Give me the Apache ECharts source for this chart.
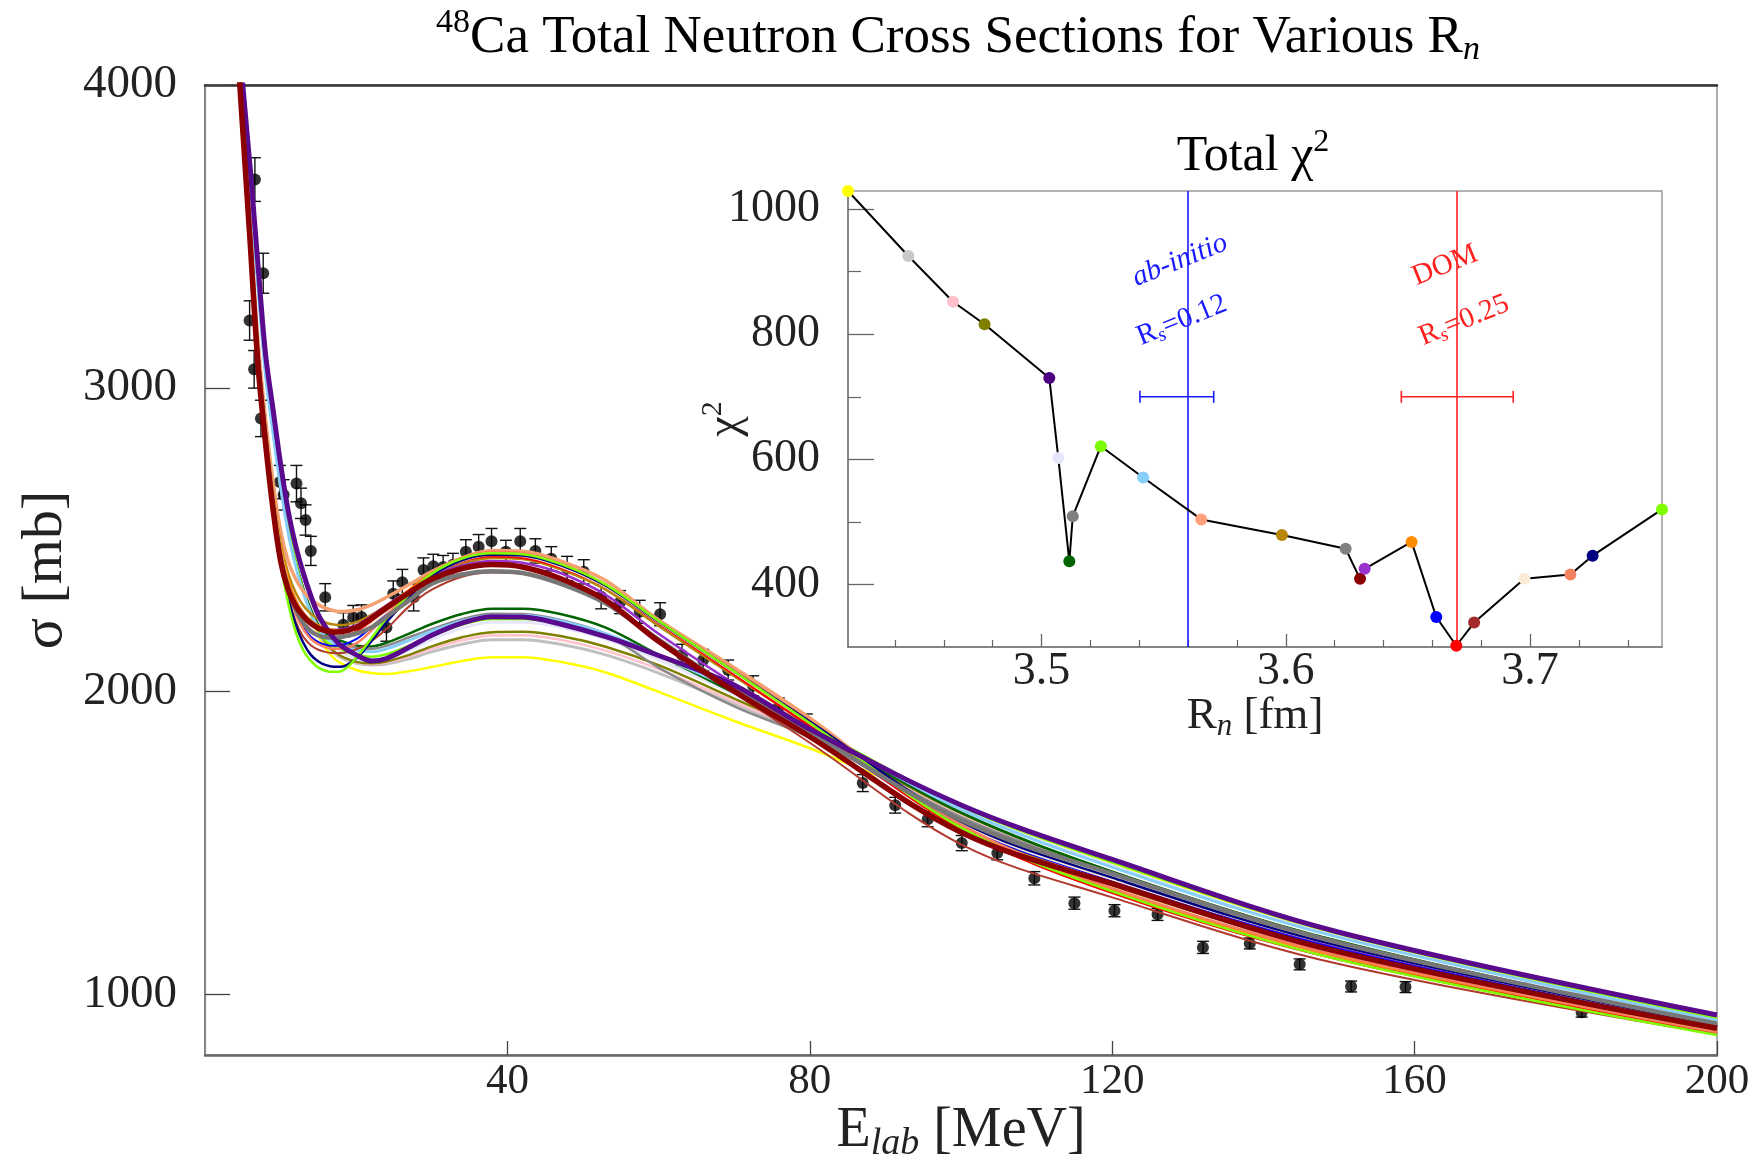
<!DOCTYPE html>
<html>
<head>
<meta charset="utf-8">
<script src="https://cdn.jsdelivr.net/npm/echarts@6/dist/echarts.min.js"></script>
<style>
html,body{margin:0;padding:0;background:#ffffff;}
#c{width:1754px;height:1162px;}
</style>
</head>
<body>
<div id="c"></div>
<script>
// ---------------- DATA ----------------
const energyGrid = [4,5,6,7,8,9,10,11,12,13,14,15,16,17,18,20,22,24,27,30,34,38,42,47,53,60,70,80,100,120,150,200];

const sigmaYellow      = [4320,3980,3690,3380,3090,2895,2710,2555,2435,2335,2250,2185,2140,2110,2092,2070,2060,2057,2066,2080,2100,2112,2112,2097,2062,1998,1902,1812,1610,1432,1195,920];
const sigmaSilver      = [4315,3975,3685,3375,3085,2890,2705,2550,2432,2335,2255,2195,2155,2128,2110,2092,2087,2090,2107,2130,2155,2170,2170,2155,2120,2060,1958,1852,1590,1395,1165,893];
const sigmaPink        = [4312,3972,3682,3372,3082,2888,2703,2550,2433,2337,2258,2198,2158,2131,2114,2095,2090,2095,2115,2140,2168,2184,2185,2170,2134,2073,1966,1858,1594,1400,1170,897];
const sigmaOlive       = [4310,3970,3680,3370,3080,2885,2700,2548,2432,2338,2260,2200,2160,2133,2116,2097,2092,2098,2120,2148,2178,2195,2196,2182,2147,2086,1976,1864,1598,1404,1174,899];
const sigmaIndigo      = [4330,4000,3720,3410,3114,2930,2750,2595,2480,2390,2315,2252,2210,2176,2150,2120,2100,2108,2145,2185,2225,2246,2245,2222,2180,2118,2020,1875,1625,1445,1205,932];
const sigmaLavender    = [4318,3985,3700,3392,3100,2912,2730,2578,2462,2372,2298,2240,2196,2155,2130,2108,2100,2107,2135,2170,2208,2228,2228,2212,2172,2104,1990,1870,1612,1425,1190,910];
const sigmaDarkgreen   = [4300,3955,3660,3345,3055,2862,2682,2535,2425,2338,2270,2220,2190,2175,2166,2151,2148,2160,2190,2222,2255,2272,2272,2255,2210,2120,1995,1875,1600,1405,1175,900];
const sigmaGray        = [4300,3955,3660,3345,3055,2860,2680,2530,2420,2330,2260,2210,2180,2165,2156,2143,2140,2150,2178,2205,2238,2256,2255,2235,2188,2078,1950,1848,1585,1398,1168,902];
const sigmaLawngreen   = [4305,3962,3670,3358,3068,2875,2692,2540,2425,2330,2255,2200,2165,2148,2138,2120,2114,2122,2150,2182,2220,2238,2238,2222,2182,2115,2008,1885,1620,1436,1200,922];
const sigmaSkyblue     = [4295,3950,3650,3335,3045,2852,2672,2522,2412,2325,2258,2210,2178,2160,2150,2135,2130,2140,2168,2198,2232,2250,2250,2232,2190,2118,2005,1880,1610,1420,1188,914];
const sigmaLightsalmon = [4250,3880,3520,3160,2900,2690,2530,2430,2370,2330,2303,2285,2273,2266,2263,2268,2285,2310,2352,2395,2440,2464,2462,2430,2365,2235,2078,1912,1545,1345,1125,874];
const sigmaGoldenrod   = [4240,3870,3500,3130,2870,2655,2490,2390,2325,2283,2256,2238,2226,2220,2218,2228,2252,2283,2330,2375,2420,2440,2436,2402,2335,2215,2050,1888,1565,1360,1140,880];
const sigmaDimgray     = [4235,3860,3480,3095,2835,2615,2445,2340,2270,2225,2198,2184,2178,2177,2179,2190,2210,2245,2300,2355,2385,2396,2390,2355,2290,2170,2005,1865,1575,1398,1170,903];
const sigmaMaroon      = [4230,3850,3470,3080,2820,2600,2430,2335,2282,2248,2224,2208,2199,2195,2196,2210,2240,2275,2325,2370,2405,2418,2410,2372,2300,2165,2000,1850,1535,1365,1140,888];
const sigmaOrchid      = [4240,3865,3490,3105,2845,2630,2465,2365,2300,2258,2232,2216,2207,2203,2204,2218,2248,2283,2333,2380,2415,2430,2424,2390,2318,2190,2025,1870,1560,1380,1155,895];
const sigmaDarkorange  = [4250,3875,3505,3135,2870,2655,2480,2370,2300,2258,2232,2217,2207,2202,2201,2210,2238,2276,2335,2390,2438,2455,2450,2415,2345,2225,2060,1895,1555,1345,1125,872];
const sigmaBlue        = [4245,3870,3495,3120,2855,2630,2450,2335,2260,2210,2180,2162,2153,2150,2152,2172,2212,2258,2325,2385,2432,2450,2447,2415,2345,2225,2060,1895,1560,1375,1150,893];
const sigmaRed         = [4245,3868,3492,3115,2850,2628,2452,2340,2270,2225,2198,2184,2178,2177,2180,2195,2228,2268,2330,2385,2428,2445,2440,2408,2345,2225,2055,1885,1545,1335,1115,870];
const sigmaBrown       = [4240,3860,3482,3100,2835,2610,2430,2310,2230,2180,2152,2137,2129,2126,2126,2138,2165,2205,2280,2335,2378,2392,2388,2355,2290,2170,1995,1830,1495,1320,1100,868];
const sigmaAntique     = [4248,3872,3500,3128,2862,2642,2465,2352,2280,2233,2204,2188,2180,2177,2178,2190,2222,2262,2325,2382,2430,2450,2446,2412,2345,2228,2062,1895,1565,1380,1160,897];
const sigmaCoral       = [4250,3874,3500,3125,2858,2635,2455,2335,2255,2205,2173,2155,2145,2140,2140,2158,2200,2250,2325,2390,2440,2460,2456,2422,2352,2232,2068,1902,1560,1350,1128,875];
const sigmaNavy        = [4255,3880,3505,3130,2860,2630,2440,2310,2220,2160,2120,2098,2086,2081,2081,2108,2165,2228,2310,2380,2432,2450,2448,2416,2348,2230,2065,1900,1570,1385,1160,898];
const sigmaChartreuse  = [4255,3880,3505,3128,2855,2620,2425,2290,2195,2135,2100,2078,2067,2064,2066,2110,2175,2240,2320,2388,2438,2455,2452,2420,2352,2232,2065,1895,1550,1340,1115,866];

// experimental total cross sections
const expEnergy = [5.9,6.5,6.6,7.4,7.7,9.9,10.4,12.1,12.7,13.3,14.0,15.9,18.3,19.6,20.7,24.0,24.9,26.1,27.6,28.9,30.2,31.5,32.8,34.5,36.2,37.9,39.8,41.7,43.7,45.8,47.9,50.1,52.4,54.9,57.5,60.2,63.1,65.9,69.2,72.5,75.9,79.6,87.0,91.3,95.6,100.1,104.8,109.7,115.0,120.3,126.0,132.0,138.2,144.8,151.6,158.8,166.3,174.2,182.1];
const expSigma  = [3223,3062,3688,2900,3379,2690,2648,2685,2620,2565,2463,2310,2219,2243,2245,2210,2322,2360,2310,2400,2412,2410,2417,2460,2477,2495,2460,2495,2463,2437,2405,2394,2312,2294,2262,2254,2120,2103,2070,2018,1948,1895,1697,1624,1578,1499,1466,1383,1301,1276,1264,1155,1168,1099,1026,1024,1050,1020,941];
const expError  = [65,62,72,60,66,55,50,60,50,50,48,45,40,40,40,45,42,42,45,40,40,38,38,40,40,42,38,42,40,40,40,40,40,38,38,38,35,35,33,33,30,30,28,26,25,25,22,22,20,20,20,20,18,18,18,18,18,16,16];

// inset: total chi^2 vs Rn
const rnValues   = [3.4208,3.4455,3.4638,3.4767,3.5032,3.5069,3.5114,3.5128,3.5243,3.5416,3.5654,3.5984,3.6245,3.6304,3.6323,3.6515,3.6616,3.6698,3.6771,3.6977,3.7165,3.7256,3.7540];
const chi2Values = [1029,925,852,816,730,602,437,509,621,571,504,479,457,409,425,468,348,302,339,409,416,446,520];

// reference radii with uncertainties
const refNames  = ['ab-initio','DOM'];
const refRn     = [3.5554,3.6702];
const refErr    = [0.0151,0.0229];
const refChi2   = [700,700];

// rotated annotations (text, Rn, chi2)
const annoText = ['{it|ab-initio}','{r|R}{s|s}{r|=0.12}','{r|DOM}','{r|R}{s|s}{r|=0.25}'];
const annoRn   = [3.5567,3.5575,3.6652,3.6730];
const annoChi2 = [918,822,910,822];

// ticks
const mainXTicks  = [40,80,120,160,200];
const mainYTicks  = [1000,2000,3000,4000];
const insetXTicks = [3.5,3.6,3.7];
const insetXMinor = [3.44,3.46,3.48,3.52,3.54,3.56,3.58,3.62,3.64,3.66,3.68,3.72,3.74];
const insetYTicks = [400,600,800,1000];
const insetYMinor = [500,700,900];

// ---------------- STYLES ----------------
const curveSeriesData = [sigmaYellow,sigmaSilver,sigmaPink,sigmaOlive,sigmaLavender,sigmaDarkgreen,sigmaGray,sigmaLawngreen,sigmaSkyblue,
  sigmaLightsalmon,sigmaGoldenrod,sigmaOrchid,sigmaDarkorange,sigmaBlue,sigmaRed,sigmaBrown,sigmaAntique,sigmaCoral,sigmaNavy,sigmaChartreuse,
  sigmaDimgray,sigmaIndigo,sigmaMaroon];
const curveColors = ['#ffff00','#c0c0c0','#ffc0cb','#808000','#e6e6fa','#006400','#8a8a8a','#7cfc00','#87cefa',
  '#f4a070','#b8860b','#9932cc','#ff8c00','#0000ff','#ff0000','#b03a2e','#faebd7','#fa8060','#000080','#7fff00',
  '#777777','#5a0a8c','#8b0000'];
const curveWidths = [2.5,3,2.5,2.5,3,2.5,2.5,2.5,3,
  3.5,2.5,2.5,2.5,2,2.5,2,2.5,2.5,2.5,2.5,
  4.5,5,5.5];
const pointColors = ['#ffff00','#c8c8c8','#ffc0cb','#808000','#4b0082','#e6e6fa','#006400','#808080','#7cfc00','#87cefa','#ffa07a','#b8860b','#808080','#8b0000','#9932cc','#ff8c00','#0000ff','#ff0000','#a52a2a','#faebd7','#f4845f','#000080','#7fff00'];
const refColors  = ['#1a1aff','#ff2020'];

const FONT = '"Liberation Serif","DejaVu Serif",serif';
const TXT = '#222222';
const plainNum = v => String(v);

function richSet(size, small, color){
  const lh = Math.round(size*1.3);
  return {
    r:   {fontFamily:FONT, fontSize:size, color:color, lineHeight:lh},
    it:  {fontFamily:FONT, fontSize:size, color:color, lineHeight:lh, fontStyle:'italic'},
    sub: {fontFamily:FONT, fontSize:small, color:color, fontStyle:'italic', lineHeight:small, padding:[Math.round(size*0.45),0,0,0]},
    s:   {fontFamily:FONT, fontSize:small, color:color, fontStyle:'italic', lineHeight:small, padding:[Math.round(size*0.45),0,0,0]},
    sup: {fontFamily:FONT, fontSize:small, color:color, lineHeight:small, padding:[0,0,Math.round(size*0.55),0]}
  };
}

// ---------------- SERIES ----------------
const series = [];

// experimental error bars
series.push({
  type:'custom', xAxisIndex:0, yAxisIndex:0, z:1, silent:true,
  data: expEnergy.map((e,i)=>[e, expSigma[i]-expError[i], expSigma[i]+expError[i]]),
  renderItem:(params, api)=>{
    const lo = api.coord([api.value(0), api.value(1)]);
    const hi = api.coord([api.value(0), api.value(2)]);
    const w = 6;
    const st = {stroke:'#111', lineWidth:1.4};
    return {type:'group', children:[
      {type:'line', shape:{x1:lo[0],y1:lo[1],x2:hi[0],y2:hi[1]}, style:st},
      {type:'line', shape:{x1:lo[0]-w,y1:lo[1],x2:lo[0]+w,y2:lo[1]}, style:st},
      {type:'line', shape:{x1:hi[0]-w,y1:hi[1],x2:hi[0]+w,y2:hi[1]}, style:st}
    ]};
  }
});
// experimental points
series.push({
  type:'scatter', xAxisIndex:0, yAxisIndex:0, z:1, silent:true,
  symbol:'circle', symbolSize:12, itemStyle:{color:'#000'},
  data: expEnergy.map((e,i)=>[e, expSigma[i]])
});
// theory curves
curveSeriesData.forEach((arr, k)=>{
  series.push({
    type:'line', xAxisIndex:0, yAxisIndex:0, z:2+k*0.01, silent:true,
    showSymbol:false, smooth:0.35, clip:true,
    lineStyle:{color:curveColors[k], width:curveWidths[k]},
    data: energyGrid.map((e,i)=>[e, arr[i]])
  });
});

// inset chi^2 line with coloured points and reference vertical lines
series.push({
  type:'line', xAxisIndex:2, yAxisIndex:2, z:5, silent:true,
  symbol:'circle', symbolSize:12, showAllSymbol:true,
  lineStyle:{color:'#000', width:2},
  data: rnValues.map((r,i)=>({value:[r, chi2Values[i]], itemStyle:{color:pointColors[i]}})),
  markLine:{
    silent:true, symbol:['none','none'], label:{show:false}, animation:false,
    data: refRn.map((r,i)=>({xAxis:r, lineStyle:{color:refColors[i], width:1.6, type:'solid'}}))
  }
});
// inset horizontal error bars
series.push({
  type:'custom', xAxisIndex:2, yAxisIndex:2, z:4, silent:true,
  data: refRn.map((r,i)=>[r, refChi2[i], refErr[i], i]),
  renderItem:(params, api)=>{
    const r = api.value(0), c = api.value(1), e = api.value(2);
    const col = refColors[api.value(3)];
    const a = api.coord([r-e, c]), b = api.coord([r+e, c]);
    const h = 6, st = {stroke:col, lineWidth:1.6};
    return {type:'group', children:[
      {type:'line', shape:{x1:a[0],y1:a[1],x2:b[0],y2:b[1]}, style:st},
      {type:'line', shape:{x1:a[0],y1:a[1]-h,x2:a[0],y2:a[1]+h}, style:st},
      {type:'line', shape:{x1:b[0],y1:b[1]-h,x2:b[0],y2:b[1]+h}, style:st}
    ]};
  }
});
// rotated annotations
series.push({
  type:'custom', xAxisIndex:2, yAxisIndex:2, z:6, silent:true,
  data: annoRn.map((r,i)=>[r, annoChi2[i], i]),
  renderItem:(params, api)=>{
    const idx = api.value(2);
    const p = api.coord([api.value(0), api.value(1)]);
    const col = idx < 2 ? refColors[0] : refColors[1];
    return {type:'text', x:p[0], y:p[1], rotation:22*Math.PI/180,
      style:{text:annoText[idx], rich:richSet(29,20,col), align:'center', verticalAlign:'middle', fill:col}};
  }
});

// ---------------- OPTION ----------------
const option = {
  animation:false,
  backgroundColor:'#ffffff',
  grid:[
    {left:205, top:85, width:1512, height:970, show:true, borderColor:'#777', borderWidth:1.2, backgroundColor:'transparent', containLabel:false, outerBoundsMode:'none'},
    {left:848, top:191, width:814, height:456, show:true, borderColor:'#999', borderWidth:1.5, backgroundColor:'transparent', containLabel:false, outerBoundsMode:'none'}
  ],
  xAxis:[
    {gridIndex:0, type:'value', min:0, max:200, interval:40, position:'bottom',
     axisLine:{show:true, lineStyle:{color:'#666', width:2.5}},
     axisTick:{show:true, inside:true, length:14, customValues:mainXTicks, lineStyle:{color:'#444', width:1.3}},
     axisLabel:{customValues:mainXTicks, formatter:plainNum, fontFamily:FONT, fontSize:43, color:TXT, margin:5},
     splitLine:{show:false},
     name:'{r|E}{sub|lab}{r| [MeV]}', nameLocation:'middle', nameGap:40, nameMoveOverlap:false,
     nameTextStyle:{rich:richSet(56,38,TXT)}},
    {gridIndex:0, type:'value', min:0, max:200, position:'top',
     axisLine:{show:true, lineStyle:{color:'#333', width:2.5}},
     axisTick:{show:false}, axisLabel:{show:false}, splitLine:{show:false}},
    {gridIndex:1, type:'value', min:3.4208, max:3.754, position:'bottom',
     axisLine:{show:true, lineStyle:{color:'#777', width:1.5}},
     axisTick:{show:true, inside:true, length:13, customValues:insetXTicks, lineStyle:{color:'#666', width:1.3}},
     axisLabel:{customValues:insetXTicks, fontFamily:FONT, fontSize:46, color:TXT, margin:2, formatter:v=>v.toFixed(1)},
     splitLine:{show:false},
     name:'{r|R}{sub|n}{r| [fm]}', nameLocation:'middle', nameGap:40, nameMoveOverlap:false,
     nameTextStyle:{rich:richSet(45,31,TXT)}},
    {gridIndex:1, type:'value', min:3.4208, max:3.754, position:'bottom',
     axisLine:{show:false},
     axisTick:{show:true, inside:true, length:7, customValues:insetXMinor, lineStyle:{color:'#666', width:1.2}},
     axisLabel:{show:false}, splitLine:{show:false}}
  ],
  yAxis:[
    {gridIndex:0, type:'value', min:800, max:4000, position:'left',
     axisLine:{show:true, lineStyle:{color:'#777', width:1.5}},
     axisTick:{show:true, inside:true, length:25, customValues:mainYTicks, lineStyle:{color:'#444', width:1.3}},
     axisLabel:{customValues:mainYTicks, formatter:plainNum, fontFamily:FONT, fontSize:47, color:TXT, margin:28},
     splitLine:{show:false},
     name:'σ [mb]', nameLocation:'middle', nameGap:130, nameMoveOverlap:false,
     nameTextStyle:{fontFamily:FONT, fontSize:58, color:TXT}},
    {gridIndex:0, type:'value', min:800, max:4000, position:'right',
     axisLine:{show:true, lineStyle:{color:'#888', width:1.2}},
     axisTick:{show:false}, axisLabel:{show:false}, splitLine:{show:false}},
    {gridIndex:1, type:'value', min:300, max:1029, position:'left',
     axisLine:{show:true, lineStyle:{color:'#777', width:1.5}},
     axisTick:{show:true, inside:true, length:26, customValues:insetYTicks, lineStyle:{color:'#666', width:1.3}},
     axisLabel:{customValues:insetYTicks, formatter:plainNum, fontFamily:FONT, fontSize:46, color:TXT, margin:28},
     splitLine:{show:false},
     name:'{r|χ}{sup|2}', nameLocation:'middle', nameGap:92, nameMoveOverlap:false,
     nameTextStyle:{rich:richSet(46,30,TXT)}},
    {gridIndex:1, type:'value', min:300, max:1029, position:'left',
     axisLine:{show:false},
     axisTick:{show:true, inside:true, length:13, customValues:insetYMinor, lineStyle:{color:'#666', width:1.2}},
     axisLabel:{show:false}, splitLine:{show:false}}
  ],
  graphic:[
    {type:'text', x:958, y:38, silent:true,
     style:{text:'{sup|48}{r|Ca Total Neutron Cross Sections for Various R}{sub|n}', rich:richSet(53,34,TXT), align:'center', verticalAlign:'middle'}},
    {type:'text', x:1253, y:157, silent:true,
     style:{text:'{r|Total χ}{sup|2}', rich:richSet(50,32,TXT), align:'center', verticalAlign:'middle'}}
  ],
  series: series
};

const chart = echarts.init(document.getElementById('c'));
chart.setOption(option);
</script>
</body>
</html>
